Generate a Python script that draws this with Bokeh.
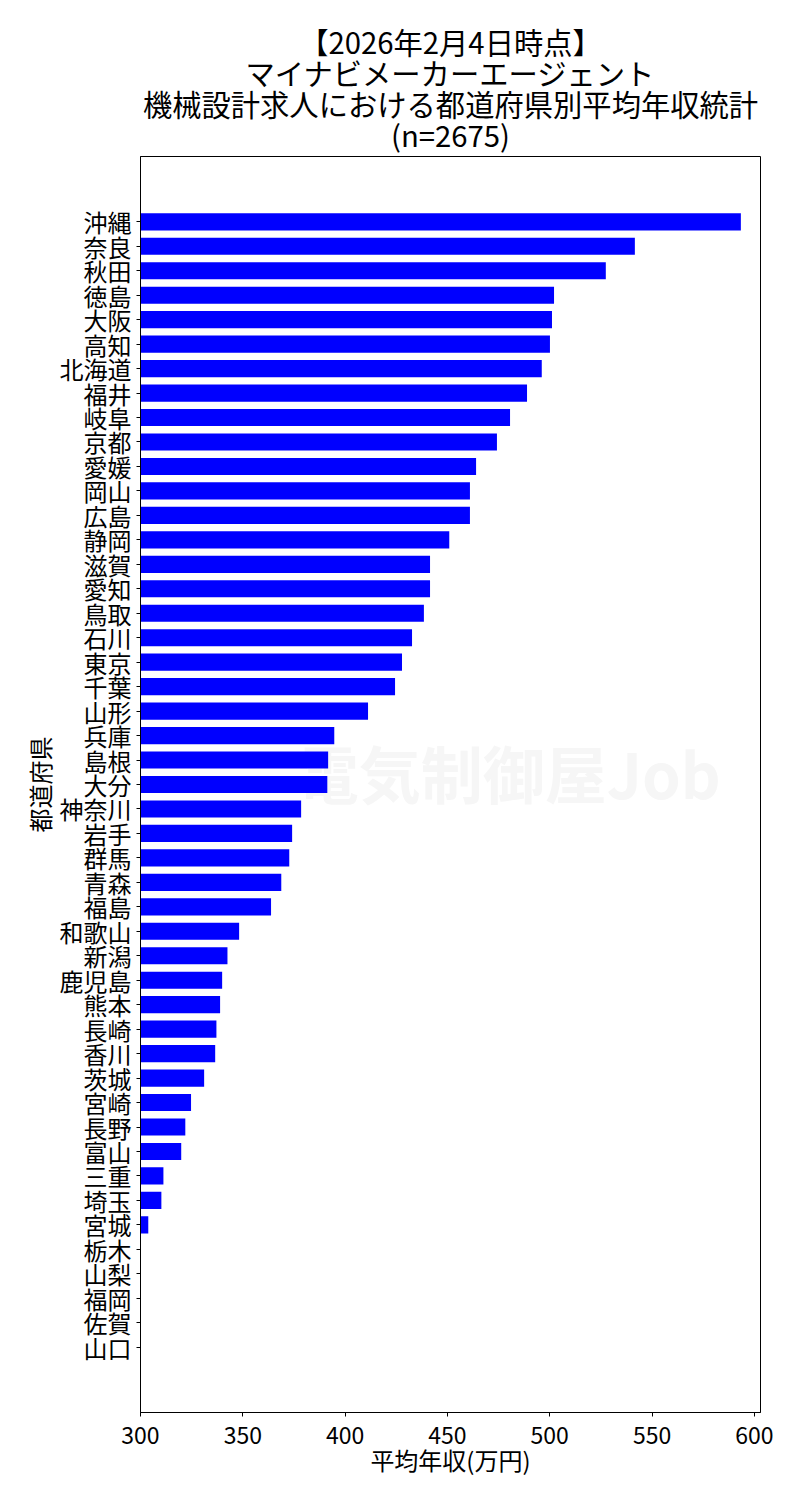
from bokeh.plotting import figure
from bokeh.layouts import column
from bokeh.models import Range1d, FixedTicker, Label, ColumnDataSource
from bokeh.core.properties import value
from bokeh.embed import file_html
from bokeh.resources import INLINE

title_lines = ["【2026年2月4日時点】", "マイナビメーカーエージェント",
               "機械設計求人における都道府県別平均年収統計", "(n=2675)"]
prefectures = ["沖縄", "奈良", "秋田", "徳島", "大阪", "高知", "北海道", "福井", "岐阜", "京都",
               "愛媛", "岡山", "広島", "静岡", "滋賀", "愛知", "鳥取", "石川", "東京", "千葉",
               "山形", "兵庫", "島根", "大分", "神奈川", "岩手", "群馬", "青森", "福島", "和歌山",
               "新潟", "鹿児島", "熊本", "長崎", "香川", "茨城", "宮崎", "長野", "富山", "三重",
               "埼玉", "宮城", "栃木", "山梨", "福岡", "佐賀", "山口"]
salaries = [593.4, 541.6, 527.4, 502.1, 501.1, 500.1, 496.1, 488.9, 480.6, 474.2,
            464.0, 461.0, 461.0, 450.9, 441.5, 441.5, 438.5, 432.7, 427.8, 424.4,
            411.2, 394.7, 391.7, 391.3, 378.5, 374.1, 372.7, 368.8, 363.8, 348.2,
            342.5, 339.9, 338.9, 337.1, 336.5, 331.1, 324.7, 321.9, 319.9, 311.2,
            310.2, 303.8, 0, 0, 0, 0, 0]
x_ticks = [300, 350, 400, 450, 500, 550, 600]
x_label = "平均年収(万円)"
y_label = "都道府県"
watermark = "電気制御屋Job"

FONT = "Noto Sans CJK JP"
W = 800
TITLE_H = 156
CHART_H = 1500 - TITLE_H
BL, BR, BB = 140, 40, 88

# ---- title block (separate figure holding only text; its frame lines up with the chart's) ----
tp = figure(width=W, height=TITLE_H, output_backend="svg", toolbar_location=None,
            x_range=Range1d(BL, W - BR), y_range=Range1d(TITLE_H, 0),
            min_border_left=BL, min_border_right=BR, min_border_top=0, min_border_bottom=0,
            outline_line_color=None,
            background_fill_color="white", border_fill_color="white")
tp.axis.visible = False
tp.grid.visible = False
title_x = BL + (W - BL - BR) / 2
title_y = [40, 71, 102, 133]
tp.text(x=[title_x] * len(title_lines), y=title_y, text=title_lines,
        text_align="center", text_baseline="middle",
        text_font=value(FONT), text_font_size="29.3px", text_color="black")

# ---- chart ----
n = len(prefectures)
ypos = [n - 1 - i for i in range(n)]
src = ColumnDataSource(dict(y=ypos, right=salaries, name=prefectures))

p = figure(width=W, height=CHART_H, output_backend="svg", toolbar_location=None,
           x_range=Range1d(300, 603), y_range=Range1d(-2.67, n - 1 + 2.67),
           min_border_left=BL, min_border_right=BR, min_border_top=0, min_border_bottom=BB,
           background_fill_color="white", border_fill_color="white")

wm = Label(x=480, y=23.5, text=watermark, text_align="center", text_baseline="middle",
           text_font=FONT, text_font_size="62px", text_font_style="bold",
           text_color="#f6f6f6", level="underlay")
p.add_layout(wm)

p.hbar(y="y", left=0, right="right", height=0.7, fill_color="#0000ff", line_color=None, source=src)

p.xgrid.visible = False
p.ygrid.visible = False
p.outline_line_color = "black"
p.outline_line_width = 1
p.outline_line_alpha = 1

p.xaxis.ticker = FixedTicker(ticks=x_ticks)
p.yaxis.ticker = FixedTicker(ticks=ypos)
p.yaxis.major_label_overrides = {y: nm for y, nm in zip(ypos, prefectures)}

for ax in (p.xaxis[0], p.yaxis[0]):
    ax.axis_line_color = "black"
    ax.major_tick_line_color = "black"
    ax.major_tick_out = 4
    ax.major_tick_in = 0
    ax.minor_tick_line_color = None
    ax.major_label_text_font = FONT
    ax.major_label_text_color = "black"
    ax.axis_label_text_font = FONT
    ax.axis_label_text_font_style = "normal"
    ax.axis_label_text_color = "black"
    ax.axis_label_text_font_size = "24px"

p.xaxis.major_label_text_font_size = "23px"
p.yaxis.major_label_text_font_size = "24px"
p.xaxis.axis_label = x_label
p.yaxis.axis_label = y_label
p.xaxis.major_label_standoff = 10
p.yaxis.major_label_standoff = 5
p.xaxis.axis_label_standoff = -5
p.yaxis.axis_label_standoff = 0

layout = column(tp, p, spacing=0)
open("out.html", "w").write(file_html(layout, INLINE))
